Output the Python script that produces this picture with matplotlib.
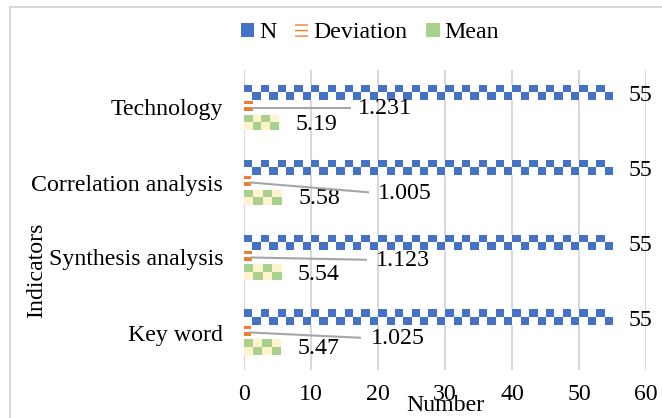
import numpy as np
import matplotlib
matplotlib.use("Agg")
import matplotlib.pyplot as plt
from matplotlib.colors import to_rgb
from matplotlib.lines import Line2D
from matplotlib.patches import Patch

# data (top to bottom)
categories = ["Technology", "Correlation analysis", "Synthesis analysis", "Key word"]
n_values = [55, 55, 55, 55]
dev_values = [1.231, 1.005, 1.123, 1.025]
mean_values = [5.19, 5.58, 5.54, 5.47]
n_labels = ["55", "55", "55", "55"]
dev_labels = ["1.231", "1.005", "1.123", "1.025"]
mean_labels = ["5.19", "5.58", "5.54", "5.47"]
x_ticks = [0, 10, 20, 30, 40, 50, 60]

# where the deviation labels were dragged to (x in data units, y offset from category)
dev_label_x = [17.0, 20.0, 19.7, 18.9]
dev_label_dy = [0.01, 0.15, 0.04, 0.08]
dev_line_x = [15.8, 18.5, 18.2, 17.3]
dev_line_dy = [0.0, 0.13, 0.03, 0.07]

BLUE = "#4472c4"
ORANGE = "#ed7d31"
GREEN = "#a9d18e"
CREAM = "#fff2cc"
GRID = "#d9d9d9"
LEADER = "#a6a6a6"
FS = 17.2

plt.rcParams["font.family"] = ["Liberation Serif", "DejaVu Serif"]
plt.rcParams["font.size"] = FS


def fill_pattern(ax, bars, c1, c2, cell_w, nrows, checker=True):
    """paint an excel-like pattern fill over every bar of a container"""
    for rect in bars:
        x0, y0 = rect.get_x(), rect.get_y()
        w, h = rect.get_width(), rect.get_height()
        ncols = max(1, int(round(w / cell_w)))
        rows, cols = np.indices((nrows, ncols))
        if checker:
            mask = (rows + cols) % 2 == 0
        else:
            mask = rows % 2 == 0
        img = np.where(mask[..., None], np.array(to_rgb(c1)), np.array(to_rgb(c2)))
        ax.imshow(img, extent=(x0, x0 + w, y0 + h, y0), aspect="auto",
                  interpolation="nearest", zorder=3)


fig = plt.figure(figsize=(6.62, 4.18), dpi=100)
ax = fig.add_axes([244 / 662, 1 - 370 / 418, 402 / 662, 300 / 418])

y = np.arange(len(categories))
h = 0.2

n_bars = ax.barh(y - h, n_values, height=h, color=BLUE, zorder=2)
dev_bars = ax.barh(y, dev_values, height=0.17, color=ORANGE, zorder=2)
mean_bars = ax.barh(y + h, mean_values, height=h, color=GREEN, zorder=2)

fill_pattern(ax, n_bars, BLUE, "white", 1.24, 2)
fill_pattern(ax, dev_bars, ORANGE, "white", 2.0, 4, checker=False)
fill_pattern(ax, mean_bars, GREEN, CREAM, 1.24, 2)

# labels
for i in range(len(categories)):
    ax.text(n_values[i] + 2.4, y[i] - h + 0.04, n_labels[i], ha="left", va="center")
    ax.text(mean_values[i] + 2.5, y[i] + 0.22, mean_labels[i], ha="left", va="center")
    ax.plot([dev_values[i], dev_line_x[i]], [y[i], y[i] + dev_line_dy[i]],
            color=LEADER, lw=1.5, zorder=4)
    ax.text(dev_label_x[i], y[i] + dev_label_dy[i], dev_labels[i], ha="left", va="center")

ax.set_xlim(0, 60)
ax.set_ylim(len(categories) - 0.5, -0.5)
ax.set_xticks(x_ticks)
ax.set_yticks(y)
ax.set_yticklabels(categories)
ax.tick_params(axis="x", length=0, pad=10)
ax.tick_params(axis="y", length=0, pad=15)
ax.xaxis.grid(True, color=GRID, lw=1.5, zorder=0)
ax.set_axisbelow(True)
for s in ax.spines.values():
    s.set_visible(False)

ax.set_xlabel("Number", va="center")
ax.xaxis.set_label_coords(0.5, -0.117)
ax.set_ylabel("Indicators", va="center")
ax.yaxis.set_label_coords(-0.517, 0.333)

handles = [Patch(facecolor=BLUE, label="N"),
           Patch(facecolor="white", edgecolor=ORANGE, hatch="---", lw=0, label="Deviation"),
           Patch(facecolor=GREEN, label="Mean")]
fig.legend(handles=handles, loc="center", bbox_to_anchor=(370 / 662, 1 - 33 / 418),
           ncol=3, frameon=False, handlelength=0.55, handleheight=0.5,
           handletextpad=0.2, columnspacing=0.8, borderaxespad=0)

# chart area border (only left/top visible in the crop)
fig.add_artist(Line2D([10 / 662, 10 / 662], [0, 1 - 7 / 418], color=GRID, lw=1.5))
fig.add_artist(Line2D([10 / 662, 1], [1 - 7 / 418, 1 - 7 / 418], color=GRID, lw=1.5))

plt.savefig("out.png", dpi=100)
